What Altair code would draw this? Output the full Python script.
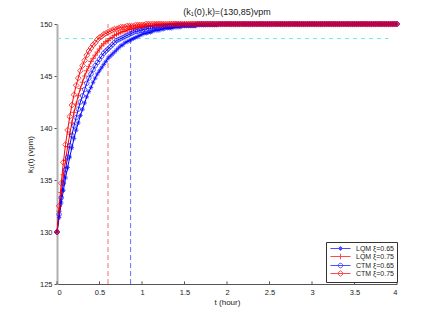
import altair as alt
import numpy as np
import pandas as pd

# ---------------- data ----------------
series_names = ["LQM ξ=0.65", "LQM ξ=0.75", "CTM ξ=0.65", "CTM ξ=0.75"]
series_colors = ["#0000ff", "#ff0000", "#0000ff", "#ff0000"]

n_points = 161
t_hours = list(np.round(np.arange(n_points) * 0.025, 3))

lqm_065 = [130.0, 131.4, 132.8, 134.0, 135.2, 136.2, 137.2, 138.1, 139.0, 139.8,
           140.5, 141.2, 141.8, 142.4, 143.0, 143.5, 143.9, 144.4, 144.8, 145.2,
           145.5, 145.8, 146.1, 146.4, 146.7, 146.9, 147.1, 147.3, 147.5, 147.7,
           147.9, 148.0, 148.2, 148.3, 148.4, 148.5, 148.6, 148.7, 148.8, 148.9,
           149.0, 149.1, 149.1, 149.2, 149.2, 149.3, 149.4, 149.4, 149.4, 149.5,
           149.5, 149.6, 149.6, 149.6, 149.6, 149.7, 149.7, 149.7, 149.7, 149.8,
           149.8, 149.8, 149.8, 149.8, 149.8, 149.8, 149.9, 149.9, 149.9, 149.9,
           149.9, 149.9, 149.9, 149.9, 149.9, 149.9]
lqm_075 = [130.0, 132.0, 133.8, 135.5, 136.9, 138.2, 139.4, 140.5, 141.5, 142.3,
           143.1, 143.8, 144.4, 145.0, 145.5, 145.9, 146.4, 146.7, 147.0, 147.3,
           147.6, 147.9, 148.1, 148.3, 148.4, 148.6, 148.7, 148.9, 149.0, 149.1,
           149.2, 149.3, 149.3, 149.4, 149.5, 149.5, 149.6, 149.6, 149.7, 149.7,
           149.7, 149.8, 149.8, 149.8, 149.8, 149.8, 149.9, 149.9, 149.9, 149.9,
           149.9, 149.9, 149.9]
ctm_065 = [130.0, 131.7, 133.3, 134.7, 136.0, 137.2, 138.3, 139.3, 140.2, 141.0,
           141.8, 142.5, 143.1, 143.7, 144.3, 144.8, 145.2, 145.6, 146.0, 146.3,
           146.6, 146.9, 147.2, 147.4, 147.6, 147.8, 148.0, 148.2, 148.4, 148.5,
           148.6, 148.7, 148.8, 148.9, 149.0, 149.1, 149.2, 149.3, 149.3, 149.4,
           149.4, 149.5, 149.5, 149.6, 149.6, 149.6, 149.7, 149.7, 149.7, 149.7,
           149.8, 149.8, 149.8, 149.8, 149.8, 149.8, 149.9, 149.9, 149.9, 149.9,
           149.9, 149.9, 149.9, 149.9, 149.9, 149.9]
ctm_075 = [130.0, 132.5, 134.7, 136.7, 138.4, 139.8, 141.1, 142.2, 143.2, 144.1,
           144.8, 145.5, 146.0, 146.5, 147.0, 147.4, 147.7, 148.0, 148.2, 148.5,
           148.7, 148.8, 149.0, 149.1, 149.2, 149.3, 149.4, 149.5, 149.5, 149.6,
           149.7, 149.7, 149.7, 149.8, 149.8, 149.8, 149.8, 149.9, 149.9, 149.9,
           149.9, 149.9]
steady_value = 150.0  # all series sit at 150 after their rise

settle_times = [0.6, 0.866]
settle_colors = ["#f07070", "#6a6aff"]
band_level = 148.6
band_t = [0.0, 3.9]
x_ticks = [0, 0.5, 1, 1.5, 2, 2.5, 3, 3.5, 4]
y_ticks = [125, 130, 135, 140, 145, 150]

# ---------------- tables ----------------
rows = []
for name, vals in zip(series_names, [lqm_065, lqm_075, ctm_065, ctm_075]):
    full = vals + [steady_value] * (n_points - len(vals))
    for t, k in zip(t_hours, full):
        rows.append({"t": float(t), "k": k, "series": name})
df = pd.DataFrame(rows)

settle_df = pd.DataFrame({"t": settle_times, "y0": [125.0] * 2, "y1": [150.0] * 2,
                          "c": settle_colors})
band_df = pd.DataFrame({"t0": [band_t[0]], "t1": [band_t[1]], "y": [band_level]})
tick_df = pd.DataFrame({"t": x_ticks, "y0": [125.0] * len(x_ticks),
                        "y1": [125.25] * len(x_ticks)})

FONT = "Liberation Sans"

marker_paths = [
    "M-1,0L1,0M0,-1L0,1M-0.7,-0.7L0.7,0.7M-0.7,0.7L0.7,-0.7",
    "M-1.25,0L1.25,0M0,-1.25L0,1.25",
    "M1,0A1,1,0,1,1,-1,0A1,1,0,1,1,1,0",
    "M0,-1.3L1.3,0L0,1.3L-1.3,0Z",
]
legend_line = "M-4.5,0L4.5,0"
legend_paths = [legend_line + p for p in marker_paths]

legend = alt.Legend(
    title=None, orient="none", legendX=269, legendY=218, padding=3,
    labelFont=FONT, labelFontSize=7, labelColor="#222222",
    symbolSize=20, symbolStrokeWidth=1, symbolOffset=8, labelOffset=12,
    rowPadding=-2, strokeColor="#333333", fillColor="white",
)

xscale = alt.Scale(domain=[0, 4], nice=False, zero=False)
yscale = alt.Scale(domain=[125, 150], nice=False, zero=False)
cscale = alt.Scale(domain=series_names, range=series_colors)
sscale = alt.Scale(domain=series_names, range=marker_paths)
lscale = alt.Scale(domain=series_names, range=legend_paths)

xaxis = alt.Axis(values=x_ticks, format="~g", ticks=False, labelPadding=4,
                 title="t (hour)", titlePadding=3, domainColor="#555555")
yaxis = alt.Axis(values=y_ticks, format="d", tickSize=3, tickColor="#555555",
                 labelPadding=2, title="k₁(t) (vpm)", titlePadding=5,
                 domainColor="#b0b0b0", domainWidth=2)

lines = alt.Chart(df).mark_line(strokeWidth=1).encode(
    x=alt.X("t:Q", scale=xscale, axis=xaxis),
    y=alt.Y("k:Q", scale=yscale, axis=yaxis),
    color=alt.Color("series:N", scale=cscale, legend=None),
    detail="series:N",
)

points = alt.Chart(df).mark_point(filled=False, size=20, strokeWidth=1).encode(
    x=alt.X("t:Q", scale=xscale), y=alt.Y("k:Q", scale=yscale),
    color=alt.Color("series:N", scale=cscale, legend=None),
    shape=alt.Shape("series:N", scale=sscale, legend=None),
)

# legend-only layer: no rows survive the filter, the legend comes from the scale domain
legend_layer = alt.Chart(df).transform_filter("datum.t < 0").mark_point(
    filled=False, size=20, strokeWidth=1
).encode(
    x=alt.X("t:Q", scale=xscale), y=alt.Y("k:Q", scale=yscale),
    color=alt.Color("series:N", scale=cscale, legend=legend),
    shape=alt.Shape("series:N", scale=lscale, legend=legend),
)

settle = alt.Chart(settle_df).mark_rule(strokeWidth=1, strokeDash=[5, 3]).encode(
    x=alt.X("t:Q", scale=xscale), y=alt.Y("y0:Q", scale=yscale), y2="y1:Q",
    color=alt.Color("c:N", scale=None),
)
band = alt.Chart(band_df).mark_rule(strokeWidth=1, strokeDash=[4, 4], color="#70e8e8").encode(
    x=alt.X("t0:Q", scale=xscale), x2="t1:Q", y=alt.Y("y:Q", scale=yscale),
)
xt = alt.Chart(tick_df).mark_rule(strokeWidth=1, color="#555555").encode(
    x=alt.X("t:Q", scale=xscale), y=alt.Y("y0:Q", scale=yscale), y2="y1:Q",
)

chart = alt.layer(band, settle, xt, lines, points, legend_layer).resolve_scale(
    color="independent", shape="independent"
).properties(
    width=340, height=260, background="white",
    title=alt.TitleParams("(k₁(0),k)=(130,85)vpm", font=FONT, fontSize=9,
                          fontWeight="normal", color="#222222", offset=0, dy=5,
                          anchor="middle", baseline="alphabetic"),
    autosize=alt.AutoSizeParams(type="none"),
    padding={"left": 49, "top": 16, "right": 20, "bottom": 30},
).configure_view(stroke=None).configure_axis(
    grid=False, labelFont=FONT, labelFontSize=7.5, labelColor="#222222",
    titleFont=FONT, titleFontSize=8, titleFontWeight="normal", titleColor="#222222",
)

chart.save("out.html", embed_options={"renderer": "svg", "actions": False})
